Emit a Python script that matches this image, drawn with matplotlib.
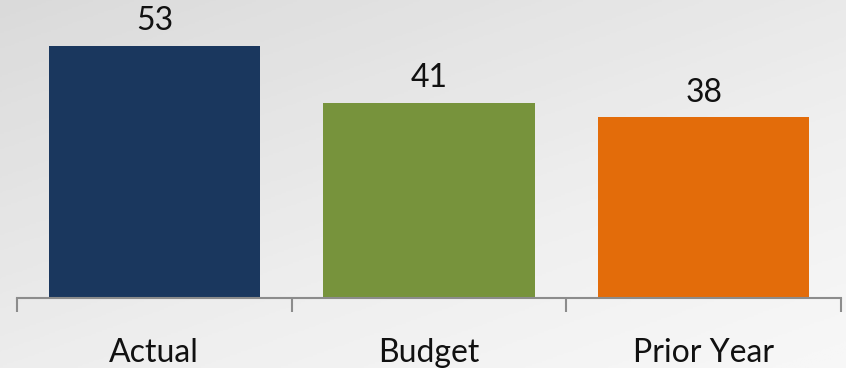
import matplotlib
matplotlib.use("Agg")
import matplotlib.pyplot as plt
import numpy as np

categories = ["Actual", "Budget", "Prior Year"]
values = [53, 41, 38]
bar_colors = ["#1A375E", "#77933C", "#E36C0A"]

plt.rcParams["font.family"] = ["Lato", "DejaVu Sans"]

fig = plt.figure(figsize=(8.46, 3.68), dpi=100)

# soft diagonal grey backdrop
bg = fig.add_axes([0, 0, 1, 1], zorder=0)
yy, xx = np.mgrid[0:1:200j, 0:1:400j]
shade = 0.55 * yy + 0.45 * xx
bg.imshow(shade, cmap="Greys_r", vmin=-4.2, vmax=1.35, aspect="auto",
          extent=[0, 1, 0, 1], origin="upper")
bg.axis("off")

ax = fig.add_axes([17 / 846, 70 / 368, 824 / 846, 298 / 368], zorder=1)
ax.patch.set_alpha(0)

x = np.arange(len(categories))
bars = ax.bar(x, values, width=0.77, color=bar_colors, zorder=2)

for bar, v in zip(bars, values):
    ax.annotate(str(v), (bar.get_x() + bar.get_width() / 2, v),
                xytext=(0, 7), textcoords="offset points",
                ha="center", va="bottom", fontsize=23, color="#111111")

ax.set_xlim(-0.5, len(categories) - 0.5)
ax.set_ylim(0, 62.7)

for side in ["top", "right", "left"]:
    ax.spines[side].set_visible(False)
ax.spines["bottom"].set_color("#8C8C8C")
ax.spines["bottom"].set_linewidth(1.5)

ax.set_yticks([])
ax.set_xticks(x)
ax.set_xticklabels(categories, fontsize=23, color="#111111")
ax.tick_params(axis="x", which="major", length=0, pad=29)
ax.set_xticks(np.arange(-0.5, len(categories)), minor=True)
ax.tick_params(axis="x", which="minor", length=10, width=1.5,
               color="#8C8C8C", direction="out")

fig.savefig("out.png", dpi=100)
